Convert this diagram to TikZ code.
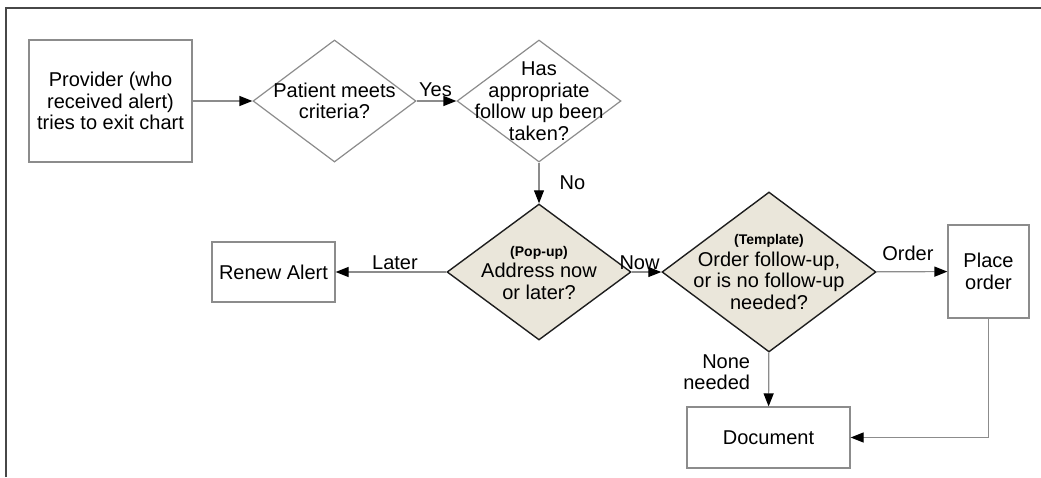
\documentclass[tikz,border=0pt]{standalone}
\usepackage{fontspec}
\setmainfont{Liberation Sans}
\usetikzlibrary{arrows.meta,positioning,shapes.geometric}
\definecolor{flowGray}{HTML}{8C8C8C}
\definecolor{flowInk}{HTML}{1E1E1E}
\definecolor{flowBeige}{HTML}{EAE6DA}
\definecolor{flowFrame}{HTML}{474747}
\newcommand{\tagfont}{\fontsize{14}{15}\selectfont\bfseries}

\begin{document}
\begin{tikzpicture}[x=1pt,y=-1pt,>={Triangle[length=13pt,width=10pt,color=black]},line join=miter]
\useasboundingbox (0,0) rectangle (1041,477);
\tikzset{txt/.style={font=\fontsize{20}{21.5}\selectfont,text=black,align=center},box/.style={txt,draw=flowGray,line width=1.2pt,fill=white,inner sep=0pt},decision/.style={diamond,draw=flowGray,line width=1.2pt,fill=white,inner sep=0pt},popbox/.style={decision,draw=flowInk,line width=1.4pt,fill=flowBeige},flow/.style={draw=flowGray,line width=1.2pt},lbl/.style={txt,inner sep=2pt}}
\draw[draw=flowFrame,line width=2pt] (6,477) -- (6,8) -- (1041,8);
\node[box,minimum width=163pt,minimum height=122pt] (provider) at (110.5,101) {Provider (who\\received alert)\\tries to exit chart};
\node[decision,minimum width=163pt,minimum height=122pt,label={[txt]center:Patient meets\\criteria?}] (meets) at (334.5,101) {};
\node[decision,minimum width=164pt,minimum height=122pt,label={[txt]center:Has\\appropriate\\follow up been\\taken?}] (taken) at (539,101) {};
\node[popbox,minimum width=184pt,minimum height=136pt,label={[txt,yshift=-1pt]center:{\tagfont (Pop-up)}\\Address now\\or later?}] (popup) at (539,272) {};
\node[popbox,minimum width=214pt,minimum height=160pt,label={[txt]center:{\tagfont (Template)}\\Order follow-up,\\or is no follow-up\\needed?}] (template) at (769,272) {};
\node[box,minimum width=123pt,minimum height=60pt] (renew) at (273.5,272) {Renew Alert};
\node[box,minimum width=81pt,minimum height=93pt] (place) at (988.5,271.5) {Place\\order};
\node[box,minimum width=163pt,minimum height=61pt] (doc) at (768.5,437.5) {Document};
% connectors
\draw[flow,->] (provider) -- (meets);
\draw[flow,->] (meets) -- node[lbl,above,xshift=-1pt,yshift=2pt] (yes) {Yes} (taken);
\draw[flow,->] (taken) -- node[lbl,right,xshift=18pt] (no) {No} (popup);
\draw[flow,->] (popup) -- node[lbl,above,xshift=4pt] (later) {Later} (renew);
\draw[flow,->] (popup) -- node[lbl,above,xshift=-7pt] (now) {Now} (template);
\draw[flow,->] (template) -- node[lbl,above,yshift=8pt,xshift=-4pt] (order) {Order} (place);
\draw[flow,->] (template) -- node[lbl,left,align=right,xshift=-16pt,pos=0.37] (none) {None\\needed} (doc);
\draw[flow,->] (place) |- (doc);
\end{tikzpicture}
\end{document}
